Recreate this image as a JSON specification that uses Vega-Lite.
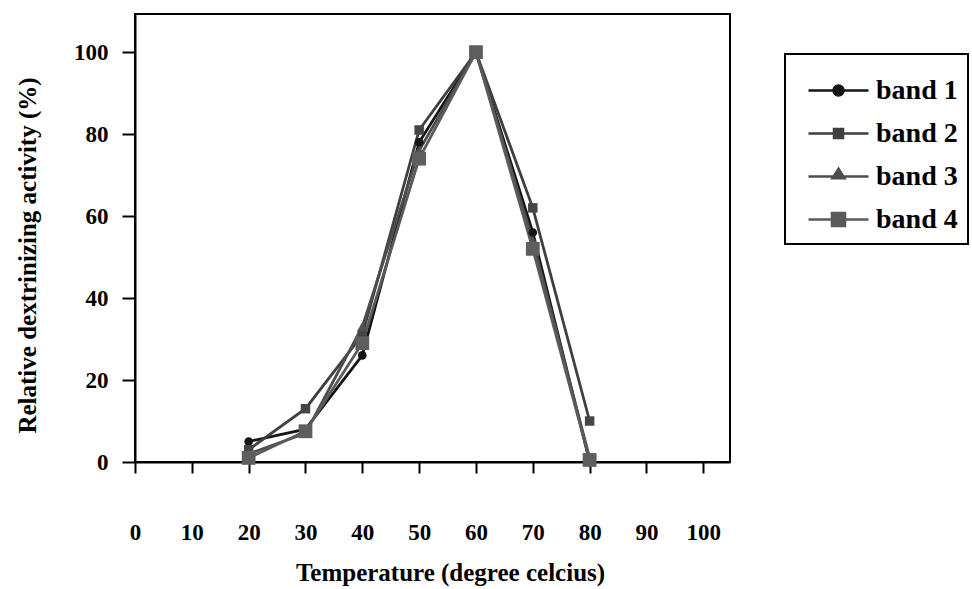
{
  "$schema": "https://vega.github.io/schema/vega-lite/v6.json",
  "width": 595,
  "height": 448,
  "autosize": "none",
  "padding": {"left": 135, "top": 14, "right": 242, "bottom": 127},
  "background": "white",
  "config": {
    "font": "Liberation Serif",
    "view": {"stroke": "black", "strokeWidth": 2},
    "axis": {
      "grid": false,
      "domainColor": "black",
      "domainWidth": 2,
      "tickColor": "black",
      "tickWidth": 2,
      "labelFont": "Liberation Serif",
      "labelFontWeight": "bold",
      "labelFontSize": 23,
      "labelColor": "black",
      "titleFont": "Liberation Serif",
      "titleFontWeight": "bold",
      "titleFontSize": 25,
      "titleColor": "black"
    }
  },
  "data": {
    "values": [
      {"temp": 20, "activity": 5, "band": "band 1"},
      {"temp": 30, "activity": 8, "band": "band 1"},
      {"temp": 40, "activity": 26, "band": "band 1"},
      {"temp": 50, "activity": 78, "band": "band 1"},
      {"temp": 60, "activity": 100, "band": "band 1"},
      {"temp": 70, "activity": 56, "band": "band 1"},
      {"temp": 80, "activity": 0, "band": "band 1"},
      {"temp": 20, "activity": 3, "band": "band 2"},
      {"temp": 30, "activity": 13, "band": "band 2"},
      {"temp": 40, "activity": 31, "band": "band 2"},
      {"temp": 50, "activity": 81, "band": "band 2"},
      {"temp": 60, "activity": 100, "band": "band 2"},
      {"temp": 70, "activity": 62, "band": "band 2"},
      {"temp": 80, "activity": 10, "band": "band 2"},
      {"temp": 20, "activity": 2, "band": "band 3"},
      {"temp": 30, "activity": 7, "band": "band 3"},
      {"temp": 40, "activity": 33, "band": "band 3"},
      {"temp": 50, "activity": 76, "band": "band 3"},
      {"temp": 60, "activity": 100, "band": "band 3"},
      {"temp": 70, "activity": 54, "band": "band 3"},
      {"temp": 80, "activity": 1, "band": "band 3"},
      {"temp": 20, "activity": 1, "band": "band 4"},
      {"temp": 30, "activity": 7.5, "band": "band 4"},
      {"temp": 40, "activity": 29, "band": "band 4"},
      {"temp": 50, "activity": 74, "band": "band 4"},
      {"temp": 60, "activity": 100, "band": "band 4"},
      {"temp": 70, "activity": 52, "band": "band 4"},
      {"temp": 80, "activity": 0.5, "band": "band 4"}
    ]
  },
  "encoding": {
    "x": {
      "field": "temp",
      "type": "quantitative",
      "scale": {"domain": [0, 104.7], "nice": false, "zero": false},
      "axis": {
        "values": [0, 10, 20, 30, 40, 50, 60, 70, 80, 90, 100],
        "tickSize": 11,
        "labelPadding": 48,
        "title": "Temperature (degree celcius)",
        "titlePadding": 16,
        "titleX": 315,
        "labelFlush": false
      }
    },
    "y": {
      "field": "activity",
      "type": "quantitative",
      "scale": {"domain": [0, 109.3], "nice": false},
      "axis": {
        "values": [0, 20, 40, 60, 80, 100],
        "tickSize": 13,
        "labelPadding": 14,
        "title": "Relative dextrinizing activity (%)",
        "titlePadding": 33,
        "titleY": 241,
        "labelFlush": false
      }
    }
  },
  "layer": [
    {
      "mark": {"type": "line", "strokeWidth": 2.8},
      "encoding": {
        "color": {
          "field": "band",
          "type": "nominal",
          "scale": {"domain": ["band 1", "band 2", "band 3", "band 4"], "range": ["#151515", "#3f3f3f", "#4d4d4d", "#5a5a5a"]},
          "legend": {
            "orient": "none",
            "legendX": 650,
            "legendY": 40,
            "title": null,
            "symbolSize": 2500,
            "symbolType": "M-1.2,0H1.2",
            "symbolOffset": 17,
            "labelFont": "Liberation Serif",
            "labelFontSize": 28,
            "labelFontWeight": "bold",
            "labelColor": "black",
            "labelOffset": 11,
            "rowPadding": 2,
            "padding": 10,
            "strokeColor": "black",
            "fillColor": "white",
            "encode": {
              "legend": {"update": {"strokeWidth": {"value": 2}}},
              "symbols": {
                "update": {
                  "shape": {"signal": "datum.value === 'band 1' ? 'M-1.2,0H1.2M0.2,0A0.2,0.2,0,1,1,-0.2,0A0.2,0.2,0,1,1,0.2,0Z' : datum.value === 'band 2' ? 'M-1.2,0H1.2M-0.18,-0.18H0.18V0.18H-0.18Z' : datum.value === 'band 3' ? 'M-1.2,0H1.2M0,-0.31L0.24,0.07H-0.24Z' : 'M-1.2,0H1.2M-0.26,-0.26H0.26V0.26H-0.26Z'"},
                  "fill": {"signal": "scale('color', datum.value)"},
                  "stroke": {"signal": "scale('color', datum.value)"},
                  "strokeWidth": {"value": 2.5},
                  "opacity": {"value": 1}
                }
              }
            }
          }
        }
      }
    },
    {
      "mark": {"type": "point", "filled": true, "opacity": 1},
      "encoding": {
        "fill": {
          "field": "band",
          "type": "nominal",
          "scale": {"range": ["#151515", "#454545", "#505050", "#5e5e5e"]},
          "legend": null
        },
        "shape": {
          "field": "band",
          "type": "nominal",
          "scale": {"range": ["circle", "square", "triangle-up", "square"]},
          "legend": null
        },
        "size": {
          "field": "band",
          "type": "nominal",
          "scale": {"type": "ordinal", "range": [75, 90, 120, 190]},
          "legend": null
        }
      }
    }
  ]
}
